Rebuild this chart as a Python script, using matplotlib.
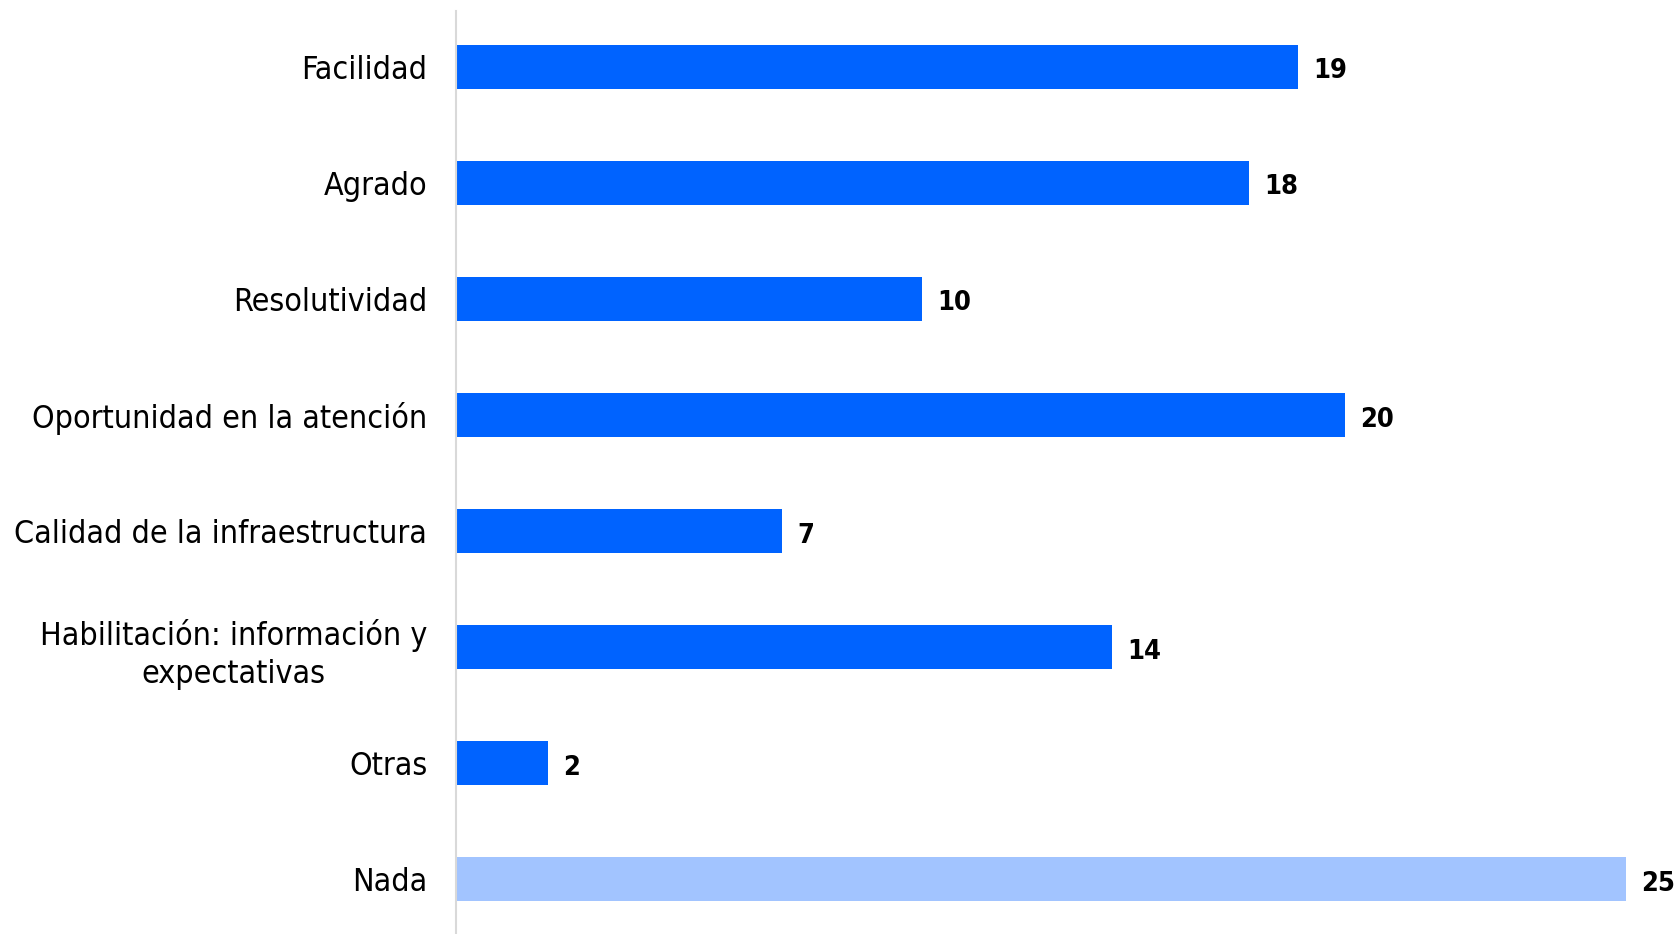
import matplotlib
matplotlib.use("Agg")
import matplotlib.pyplot as plt
from matplotlib import font_manager
from matplotlib.font_manager import FontProperties

categories = ["Facilidad", "Agrado", "Resolutividad", "Oportunidad en la atención",
              "Calidad de la infraestructura", "Habilitación: información y\nexpectativas",
              "Otras", "Nada"]
values = [19.0, 17.9, 10.5, 20.05, 7.35, 14.8, 2.07, 26.4]
value_labels = ["19", "18", "10", "20", "7", "14", "2", "25"]
colors = ["#0063FF"] * 7 + ["#A2C4FF"]

path = font_manager.findfont(FontProperties(family="DejaVu Sans", stretch="condensed"))
condensed = "Condensed" in path

fig = plt.figure(figsize=(16.8, 9.34), dpi=100)
ax = fig.add_axes([0.2717, 0.0, 0.7233, 0.988])
y = list(range(len(categories)))
ax.barh(y, values, height=0.38, color=colors)

cat_size = 23 if condensed else 21
val_size = 19.5 if condensed else 18
for yi, v, lab in zip(y, values, value_labels):
    ax.annotate(lab, (v, yi), xytext=(11, -1), textcoords="offset points",
                va="center_baseline", ha="left", fontsize=val_size, fontweight="bold",
                family="DejaVu Sans", fontstretch="condensed", color="black")
ax.set_ylim(7.47, -0.48)
ax.set_xlim(0, 27.43)
ax.set_yticks(y)
ax.set_yticklabels(categories)
for t in ax.get_yticklabels():
    t.set_fontsize(cat_size)
    t.set_family("DejaVu Sans")
    t.set_fontstretch("condensed")
    t.set_multialignment("center")
    t.set_linespacing(1.3)
ax.tick_params(axis="y", length=0, pad=21)
ax.set_xticks([])
for s in ["top", "right", "bottom"]:
    ax.spines[s].set_visible(False)
ax.spines["left"].set_color("#d9d9d9")
ax.spines["left"].set_linewidth(1.5)
fig.savefig("out.png", dpi=100)
